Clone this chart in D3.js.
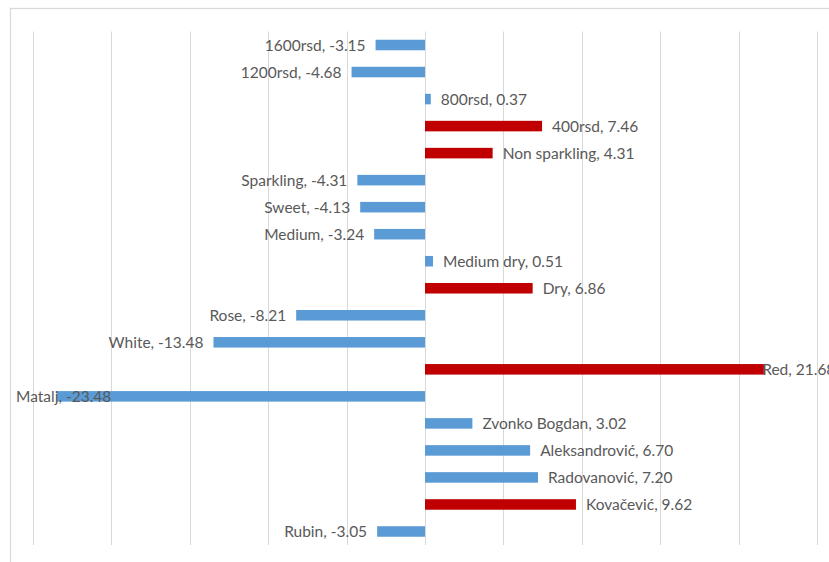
<!DOCTYPE html>
<html>
<head>
<meta charset="utf-8">
<script src="https://cdn.jsdelivr.net/npm/d3@7"></script>
<style>
  html, body { margin: 0; padding: 0; background: #fff; }
  svg { display: block; }
</style>
</head>
<body>
<svg id="chart" width="829" height="562"></svg>
<script>
// Categories, top to bottom
const categories = ["1600rsd", "1200rsd", "800rsd", "400rsd", "Non sparkling", "Sparkling", "Sweet", "Medium", "Medium dry", "Dry", "Rose", "White", "Red", "Matalj", "Zvonko Bogdan", "Aleksandrović", "Radovanović", "Kovačević", "Rubin"];
const values = [-3.15, -4.68, 0.37, 7.46, 4.31, -4.31, -4.13, -3.24, 0.51, 6.86, -8.21, -13.48, 21.68, -23.48, 3.02, 6.70, 7.20, 9.62, -3.05];
// Highlighted (red) categories
const highlighted = ["400rsd", "Non sparkling", "Dry", "Red", "Kovačević"];
const xTicks = [-25, -20, -15, -10, -5, 0, 5, 10, 15, 20, 25];

const data = categories.map((c, i) => ({ cat: c, val: values[i], hi: highlighted.includes(c) }));

const svg = d3.select("#chart");
const W = 829, H = 562;
const plot = { left: 32.7, right: 817.3, top: 31.5, bottom: 545 };

const x = d3.scaleLinear().domain([-25, 25]).range([plot.left, plot.right]);
const y = d3.scaleBand().domain(categories).range([plot.top, plot.bottom]).paddingInner(0.61).paddingOuter(0.305);

// chart border
svg.append("rect")
  .attr("x", 10.5).attr("y", 8.5)
  .attr("width", W + 20).attr("height", H + 20)
  .attr("fill", "none").attr("stroke", "#D9D9D9").attr("stroke-width", 1.3);

// vertical gridlines
svg.append("g").selectAll("line").data(xTicks).join("line")
  .attr("x1", d => Math.round(x(d)) + 0.5).attr("x2", d => Math.round(x(d)) + 0.5)
  .attr("y1", plot.top).attr("y2", plot.bottom)
  .attr("stroke", "#D9D9D9").attr("stroke-width", 1);

// bars
svg.append("g").selectAll("rect").data(data).join("rect")
  .attr("x", d => x(Math.min(0, d.val)))
  .attr("y", d => y(d.cat))
  .attr("width", d => Math.abs(x(d.val) - x(0)))
  .attr("height", y.bandwidth())
  .attr("fill", d => d.hi ? "#C00000" : "#5B9BD5");

// labels
const fmt = v => (v < 0 ? "-" : "") + Math.abs(v).toFixed(2);
const labels = svg.append("g")
  .style("font-family", "Lato, 'Open Sans', sans-serif")
  .style("font-size", "15.5px")
  .attr("fill", "#595959");

labels.selectAll("text").data(data).join("text")
  .attr("y", d => y(d.cat) + y.bandwidth() / 2)
  .attr("dy", "0.36em")
  .text(d => `${d.cat}, ${fmt(d.val)}`)
  .each(function(d) {
    const t = d3.select(this);
    const w = this.getComputedTextLength();
    const gap = 10;
    if (d.val >= 0) {
      let sx = x(d.val) + gap;
      if (sx + w > W) sx = x(d.val) - 3;
      t.attr("x", sx).attr("text-anchor", "start");
    } else {
      let ex = x(d.val) - gap;
      const minX = 16;
      if (ex - w < minX) ex = minX + w;
      t.attr("x", ex).attr("text-anchor", "end");
    }
  });
</script>
</body>
</html>
